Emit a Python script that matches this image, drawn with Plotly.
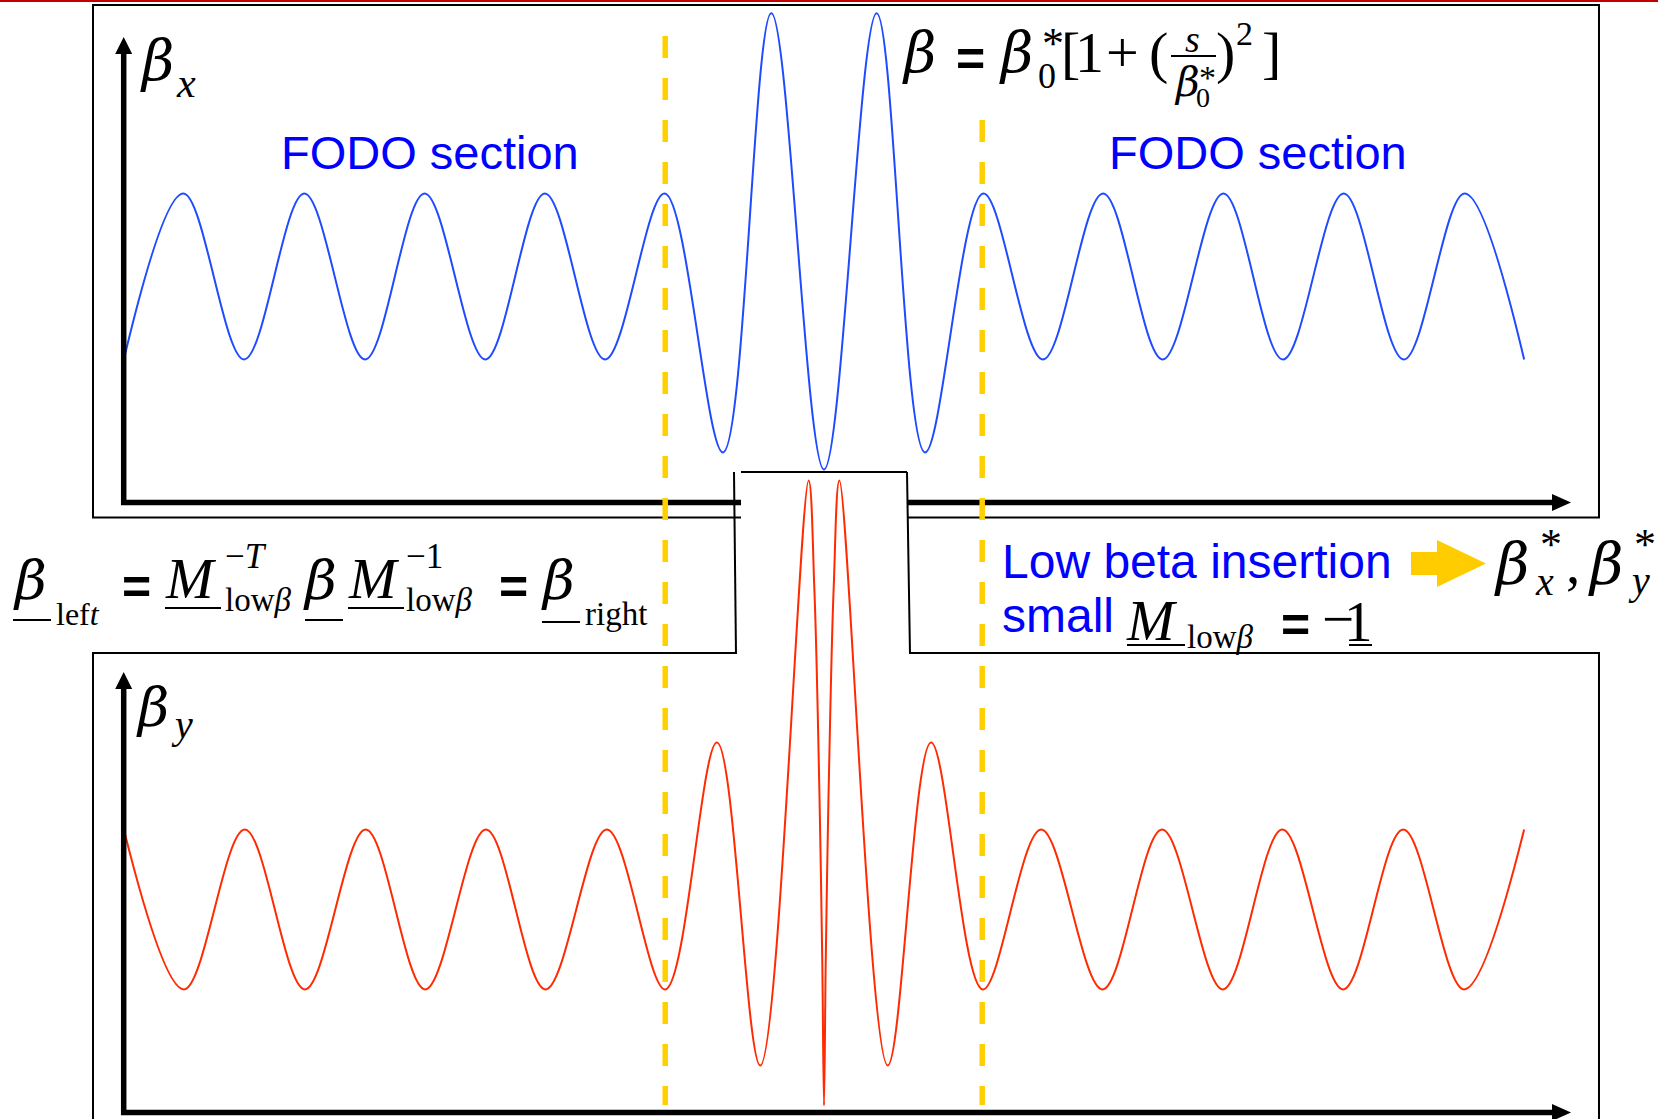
import plotly.graph_objects as go

W, H = 1658, 1119

# ---------------- data ----------------
# s : position along the beam line in FODO-cell lengths, measured from the IP
# beta : arbitrary units, FODO maximum = 100
s_beta_x = [-5.82, -5.325, -4.82, -4.32, -3.815, -3.32, -2.815, -2.32, -1.82, -1.325,
            -0.84, -0.438, 0.0, 0.438, 0.84,
            1.325, 1.82, 2.32, 2.815, 3.32, 3.815, 4.32, 4.82, 5.325, 5.82]
beta_x = [46.3, 100, 46.3, 100, 46.3, 100, 46.3, 100, 46.3, 100,
          16.2, 158.3, 10.7, 158.3, 16.2,
          100, 46.3, 100, 46.3, 100, 46.3, 100, 46.3, 100, 46.3]

s_beta_y = [-5.82, -5.32, -4.815, -4.315, -3.81, -3.315, -2.81, -2.315, -1.805, -1.32,
            -0.89, -0.53, -0.128, -0.081, -0.052, -0.031, -0.014, 0.0,
            0.014, 0.031, 0.052, 0.081, 0.128, 0.53, 0.89,
            1.32, 1.805, 2.315, 2.81, 3.315, 3.81, 4.315, 4.815, 5.32, 5.82]
beta_y = [100, 43.5, 100, 43.5, 100, 43.5, 100, 43.5, 100, 43.5,
          130.7, 16.6, 223.3, 185.9, 141.3, 96.8, 52.3, 2.5,
          52.3, 96.8, 141.3, 185.9, 223.3, 16.6, 130.7,
          43.5, 100, 43.5, 100, 43.5, 100, 43.5, 100, 43.5, 100]

insertion_edges = [-1.32, 1.315]

# ---------------- styles ----------------
BLUE_LINE = "#1F4BFF"
RED_LINE = "#FF2A00"
TEXT_BLUE = "#0000FF"
GOLD = "#FFD000"
SERIF = "Liberation Serif, Times New Roman, serif"
GREEK = "DejaVu Serif, Liberation Serif, serif"
SANS = "Liberation Sans, Arial, sans-serif"
METRICS = {SERIF: (0.891, 0.216), GREEK: (0.928, 0.236), SANS: (0.905, 0.212)}

# axis scale layout (pixel placement of the two panels)
X_ORIGIN_PX, CELL_PX = 824.0, 120.3
TOP_ZERO_PX, TOP_SCALE = 502.5, 3.09
BOT_ZERO_PX, BOT_SCALE = 1112.5, 2.83
xr = [(0 - X_ORIGIN_PX) / CELL_PX, (W - X_ORIGIN_PX) / CELL_PX]
yr = [(TOP_ZERO_PX - H) / TOP_SCALE, TOP_ZERO_PX / TOP_SCALE]
y2r = [(BOT_ZERO_PX - H) / BOT_SCALE, BOT_ZERO_PX / BOT_SCALE]

shapes = []
annotations = []


def P(x, y):
    return x / W, 1 - y / H


def pline(x0, y0, x1, y1, color="black", width=2):
    a, b = P(x0, y0)
    c, d = P(x1, y1)
    shapes.append(dict(type="line", xref="paper", yref="paper", x0=a, y0=b, x1=c, y1=d,
                       line=dict(color=color, width=width), layer="above"))


def ppath(points, color="black", width=2, fill=None, closed=False):
    d = "M " + " L ".join("%.5f,%.5f" % P(x, y) for x, y in points) + (" Z" if closed else "")
    sh = dict(type="path", xref="paper", yref="paper", path=d, layer="above",
              line=dict(color=color, width=width))
    if fill:
        sh["fillcolor"] = fill
        sh["line"] = dict(width=0, color=fill)
    shapes.append(sh)


def txt(t, x, base, size, family=SERIF, color="black"):
    asc, desc = METRICS[family]
    yc = base - (asc - (asc + desc) / 2) * size
    a, b = P(x, yc)
    annotations.append(dict(text=t, x=a, y=b, xref="paper", yref="paper", xanchor="left",
                            yanchor="middle", showarrow=False, borderpad=0,
                            font=dict(family=family, size=size, color=color)))


def beta(x, base, size=55):
    txt("<i>β</i>", x, base, size, family=GREEK)


def equals(x, center, size=50):
    txt("<b>=</b>", x, center + 0.355 * size, size, family=SANS)


# ---------------- frames ----------------
pline(0, 1, W, 1, color="#C00000", width=2)
ppath([(741, 517.5), (93, 517.5), (93, 5), (1599, 5), (1599, 517.5), (907, 517.5)])
ppath([(736, 653), (93, 653), (93, 1130)])
ppath([(910, 653), (1599, 653), (1599, 1130)])
# zoom connector
pline(734, 472, 736, 654)
pline(741, 472, 907, 472)
pline(907, 472, 910, 654)

# ---------------- axes with arrows ----------------
AX = 123.7
AW = 5.5
pline(AX, 505, AX, 50, width=AW)
ppath([(AX, 37), (AX + 8.5, 54), (AX - 8.5, 54)], fill="black", closed=True)
pline(121, 502.5, 741, 502.5, width=AW)
pline(907, 502.5, 1555, 502.5, width=AW)
ppath([(1571, 502.5), (1552, 494), (1552, 511)], fill="black", closed=True)
pline(AX, 1115, AX, 686, width=AW)
ppath([(AX, 672), (AX + 8.5, 689), (AX - 8.5, 689)], fill="black", closed=True)
pline(121, 1112.5, 1555, 1112.5, width=AW)
ppath([(1571, 1112.5), (1552, 1104), (1552, 1121)], fill="black", closed=True)

# ---------------- axis labels ----------------
beta(139, 80, 56)
txt("<i>x</i>", 175, 97, 42)
beta(135, 726, 54)
txt("<i>y</i>", 170, 738, 40)

# ---------------- FODO labels ----------------
txt("FODO section", 280, 169, 47, family=SANS, color=TEXT_BLUE)
txt("FODO section", 1108, 169, 47, family=SANS, color=TEXT_BLUE)

# ---------------- top formula  β = β0*[1+(s/β0*)^2] ----------------
beta(901, 72, 56)
equals(955, 59)
beta(998, 72, 56)
txt("0", 1037, 88, 36)
txt("*", 1041, 58, 44)
txt("[", 1060, 72, 58)
txt("1", 1074, 72, 58)
txt("+", 1105, 72, 58)
txt("(", 1148, 72, 58)
txt("<i>s</i>", 1184, 52, 38)
pline(1171, 56, 1216, 56, width=2)
beta(1173, 96, 41)
txt("0", 1195, 107, 28)
txt("*", 1198, 89, 34)
txt(")", 1215, 72, 58)
txt("2", 1235, 45, 34)
txt("]", 1261, 72, 58)

# ---------------- middle formula ----------------
beta(12, 599, 55)
pline(13, 620, 51, 620)
txt("lef<i>t</i>", 55, 625, 32)
equals(121, 587)
txt("<i>M</i>", 164, 598, 57)
pline(165, 608, 221, 608)
txt("−<i>T</i>", 224, 568, 35)
txt("low<i>β</i>", 224, 611, 33)
beta(302, 599, 55)
pline(305, 620, 343, 620)
txt("<i>M</i>", 347, 598, 57)
pline(348, 608, 404, 608)
txt("−1", 405, 568, 35)
txt("low<i>β</i>", 405, 611, 33)
equals(498, 587)
beta(540, 599, 55)
pline(542, 622, 580, 622)
txt("right", 584, 625, 33)

# ---------------- right annotations ----------------
txt("Low beta insertion", 1001, 578, 48, family=SANS, color=TEXT_BLUE)
txt("small", 1001, 632, 48, family=SANS, color=TEXT_BLUE)
txt("<i>M</i>", 1125, 640, 57)
pline(1127, 645, 1185, 645)
txt("low<i>β</i>", 1186, 648, 33)
equals(1280, 625)
txt("−", 1321, 638, 57)
txt("1", 1343, 641, 57)
pline(1349, 645, 1372, 645)

ppath([(1411, 552), (1437, 552), (1437, 540), (1486, 563.5), (1437, 587), (1437, 575), (1411, 575)],
      fill="#FFCC00", closed=True)
beta(1493, 584, 58)
txt("*", 1539, 559, 44)
txt("<i>x</i>", 1534, 595, 40)
txt(",", 1565, 583, 57)
beta(1587, 584, 58)
txt("*", 1633, 559, 44)
txt("<i>y</i>", 1627, 594, 40)

# ---------------- yellow dashed boundaries of the insertion ----------------
for xe, ytop in zip(insertion_edges, [36, 120]):
    shapes.append(dict(type="line", xref="x", yref="paper", x0=xe, x1=xe,
                       y0=1 - ytop / H, y1=1 - 1105 / H, layer="above",
                       line=dict(color=GOLD, width=5.5, dash="22px,20px")))

# ---------------- figure ----------------
fig = go.Figure()
fig.add_trace(go.Scatter(x=s_beta_x, y=beta_x, mode="lines", xaxis="x", yaxis="y",
                         line=dict(color=BLUE_LINE, width=2, shape="spline", smoothing=1, simplify=False),
                         hoverinfo="skip", showlegend=False))
fig.add_trace(go.Scatter(x=s_beta_y, y=beta_y, mode="lines", xaxis="x", yaxis="y2",
                         line=dict(color=RED_LINE, width=2, shape="spline", smoothing=1, simplify=False),
                         hoverinfo="skip", showlegend=False))

fig.update_layout(
    width=W, height=H, autosize=False,
    margin=dict(l=0, r=0, t=0, b=0, pad=0),
    paper_bgcolor="white", plot_bgcolor="white", showlegend=False,
    xaxis=dict(range=xr, visible=False, domain=[0, 1], fixedrange=True),
    yaxis=dict(range=yr, visible=False, domain=[0, 1], fixedrange=True),
    yaxis2=dict(range=y2r, visible=False, domain=[0, 1], overlaying="y", fixedrange=True),
    shapes=shapes, annotations=annotations,
)

fig.write_html("out.html", config={"displayModeBar": False},
               post_script="document.body.style.margin='0px';")
